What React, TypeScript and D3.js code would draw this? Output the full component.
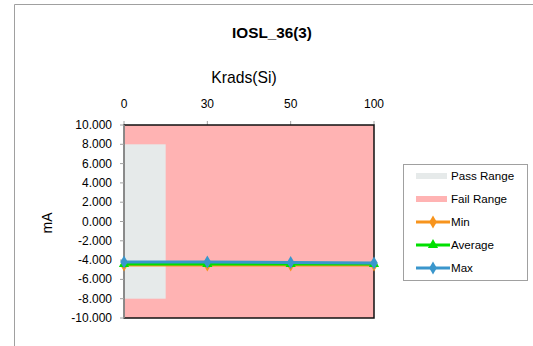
import * as d3 from "d3";

const categories = ["0", "30", "50", "100"];
const yTicks = [10, 8, 6, 4, 2, 0, -2, -4, -6, -8, -10];
const passRange = [-8, 8];
const minValues = [-4.5, -4.5, -4.5, -4.5];
const avgValues = [-4.4, -4.4, -4.4, -4.4];
const maxValues = [-4.2, -4.2, -4.25, -4.3];

const series = [
  { name: "Min", values: minValues, color: "#f7941d", marker: "diamond" },
  { name: "Average", values: avgValues, color: "#00e000", marker: "triangle" },
  { name: "Max", values: maxValues, color: "#3a96cc", marker: "diamond" }
];

const font = "Liberation Sans, Arial, sans-serif";

export default function App() {
  const width = 533;
  const height = 346;
  const left = 124, right = 374, top = 125, bottom = 318;
  const x = d3.scalePoint<string>().domain(categories).range([left, right]).padding(0);
  const y = d3.scaleLinear().domain([-10, 10]).range([bottom, top]);
  const step = x.step();
  const line = d3.line<number>().x((_d, i) => x(categories[i]) as number).y((d) => y(d));
  const sym = (m: string) =>
    d3.symbol().type(m === "triangle" ? d3.symbolTriangle : d3.symbolDiamond).size(m === "triangle" ? 45 : 50)() || "";

  const legendItems = ["Pass Range", "Fail Range", "Min", "Average", "Max"];
  const ly = (i: number) => 176 + i * 23;

  return (
    <svg width={width} height={height} style={{ position: "absolute", left: 0, top: 0 }} fontFamily={font}>
      <rect x={0} y={0} width={width} height={height} fill="white" />
      <path d={`M14.5,${height}V4.5H${width}`} fill="none" stroke="#a0a0a0" />
      <text x={272} y={38} textAnchor="middle" fontSize={15.3} fontWeight="bold">IOSL_36(3)</text>
      <text x={244} y={83} textAnchor="middle" fontSize={15.7}>Krads(Si)</text>
      {categories.map((c) => (
        <g key={c}>
          <text x={x(c)} y={108} textAnchor="middle" fontSize={12}>{c}</text>
          <line x1={x(c)} x2={x(c)} y1={top - 4} y2={top} stroke="#a0a0a0" />
        </g>
      ))}
      {/* fail range fills the whole plot */}
      <rect x={left} y={top} width={right - left} height={bottom - top} fill="#ffb3b3" />
      <rect x={left} y={y(passRange[1])} width={step / 2} height={y(passRange[0]) - y(passRange[1])} fill="#e6eaea" />
      <rect x={left} y={top} width={right - left} height={bottom - top} fill="none" stroke="#111" strokeWidth={1.5} />
      <line x1={left} x2={left} y1={top} y2={bottom} stroke="#a0a0a0" strokeWidth={1.5} />
      {yTicks.map((t) => (
        <g key={t}>
          <line x1={left - 4} x2={left} y1={y(t)} y2={y(t)} stroke="#a0a0a0" />
          <text x={112} y={y(t) + 4} textAnchor="end" fontSize={12}>{t.toFixed(3)}</text>
        </g>
      ))}
      <text transform={`translate(52,223) rotate(-90)`} textAnchor="middle" fontSize={14}>mA</text>
      {series.map((s) => (
        <g key={s.name}>
          <path d={line(s.values) || ""} fill="none" stroke={s.color} strokeWidth={3} />
          {s.values.map((v, i) => (
            <path key={i} d={sym(s.marker)} transform={`translate(${x(categories[i])},${y(v)})`} fill={s.color} />
          ))}
        </g>
      ))}
      <rect x={403.5} y={164.5} width={124} height={116} fill="white" stroke="#a0a0a0" />
      {legendItems.map((name, i) => {
        const s = series.find((d) => d.name === name);
        return (
          <g key={name}>
            {i === 0 && <rect x={416} y={ly(i) - 3} width={31} height={6} fill="#e6eaea" />}
            {i === 1 && <rect x={416} y={ly(i) - 3} width={31} height={6} fill="#ffb3b3" />}
            {s && (
              <>
                <line x1={416} x2={450} y1={ly(i)} y2={ly(i)} stroke={s.color} strokeWidth={3} />
                <path d={sym(s.marker)} transform={`translate(433,${ly(i)})`} fill={s.color} />
              </>
            )}
            <text x={451} y={ly(i) + 4} fontSize={11.6}>{name}</text>
          </g>
        );
      })}
    </svg>
  );
}
